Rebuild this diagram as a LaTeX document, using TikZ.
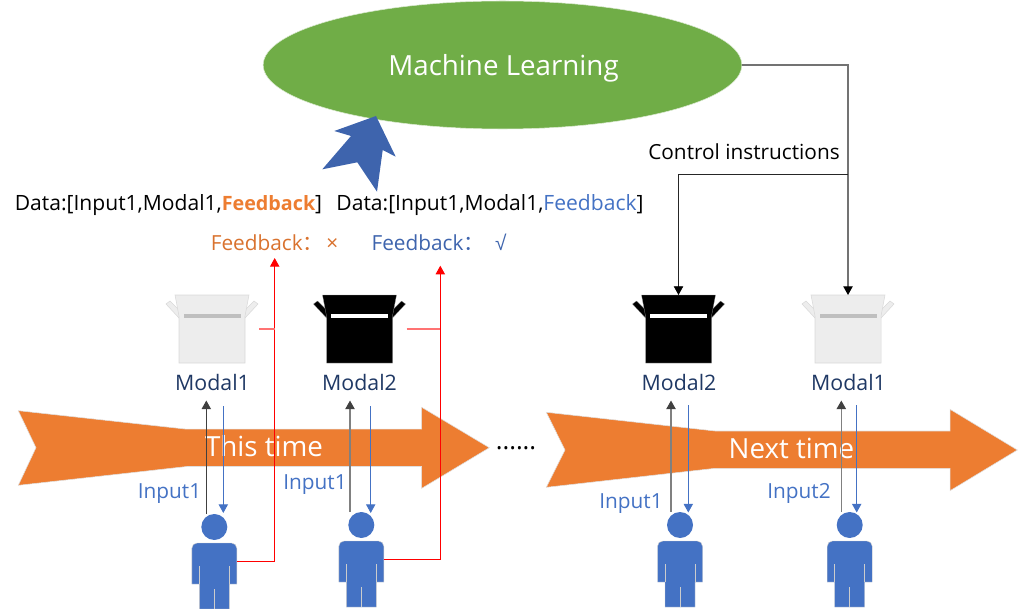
\documentclass[tikz,border=0pt]{standalone}
\usepackage{fontspec}
\setmainfont{Open Sans}
\newfontfamily\cjk{Noto Sans CJK SC}
\newfontfamily\lib{Liberation Sans}
\usetikzlibrary{arrows.meta,shapes.geometric}
\definecolor{mlgreen}{HTML}{70AD47}
\definecolor{timeorange}{HTML}{ED7D31}
\definecolor{userblue}{HTML}{4472C4}
\definecolor{bigblue}{HTML}{3E64AD}
\definecolor{modalnavy}{HTML}{1F3864}
\definecolor{fbackorange}{HTML}{D9722E}
\definecolor{upgray}{HTML}{404040}
\tikzset{
    person/.pic={
        \fill[userblue] (0,0) circle (13);
        \fill[userblue, draw=black!20, line width=0.3pt] (-22.5,57) [rounded corners=4pt] -- (-22.5,16) -- (22.5,16) [sharp corners] -- (22.5,57) -- (15,57) -- (15,82) -- (-15,82) -- (-15,57) -- cycle;
        \draw[black!20, line width=0.5pt] (-15,39) -- (-15,57) (15,39) -- (15,57) (0,62) -- (0,82);
        \coordinate (-side) at (22.5,34);
    },
    modalbox/.pic={
        \path[pic actions] (-46,9) -- (-42,6) -- (-31,17) -- (-33,23) -- cycle;
        \path[pic actions] (46,9) -- (42,6) -- (31,17) -- (33,23) -- cycle;
        \path[pic actions] (-37,0) -- (37,0) -- (33,21) -- (33,68) -- (-33,68) -- (-33,21) -- cycle;
        \coordinate (-top) at (0,0);
    }
}
\begin{document}
\begin{tikzpicture}[x=0.75pt, y=-0.75pt,
        mlnode/.style={ellipse, fill=mlgreen, draw=white!75!mlgreen, line width=0.4pt, minimum width=359pt, minimum height=96pt, inner sep=0pt},
        bigarrow/.style={fill=timeorange, draw=white!75!gray, line width=0.4pt},
        lightbox/.style={fill=black!7, draw=black!15, line width=0.4pt},
        darkbox/.style={fill=black, draw=black!40, line width=0.2pt},
        txt/.style={anchor=base, inner sep=0pt, font=\fontsize{15.6}{18}\selectfont},
        datatxt/.style={txt, font=\fontsize{15.8}{18}\selectfont},
        bigtxt/.style={anchor=base, inner sep=0pt, text=white, font=\fontsize{20.8}{24}\selectfont},
        modaltxt/.style={txt, text=modalnavy, font=\fontsize{16}{18}\selectfont},
        inputtxt/.style={txt, text=userblue},
        uparrow/.style={-{Triangle[width=7pt,length=6.5pt,color=upgray]}, draw=upgray, line width=0.75pt},
        upfaint/.style={-{Triangle[width=7pt,length=6.5pt,color=upgray]}, draw=black!50, line width=1.1pt},
        downarrow/.style={-{Triangle[width=7pt,length=6.5pt]}, draw=userblue, line width=0.7pt},
        redarrow/.style={-{Triangle[width=7pt,length=6.5pt]}, draw=red, line width=0.75pt},
        redstub/.style={draw=red!55, line width=1pt},
        ctrlarrow/.style={-{Triangle[width=7pt,length=6.5pt,color=black]}, draw=black!85, line width=0.6pt}
    ]
    \useasboundingbox (0,0) rectangle (1019,609);

    % Time arrows
    \fill[bigarrow] (18.3,410.7) -- (186.7,429.2) -- (421.7,429.2) -- (421.7,407.3) -- (489.3,447.7) -- (421.7,488.3) -- (421.7,466.5) -- (186.7,466.5) -- (18.3,485.3) -- (36,447.7) -- cycle;
    \fill[bigarrow] (546.3,412.3) -- (715,431) -- (950,431) -- (950,409.3) -- (1017.3,450) -- (950,490.7) -- (950,468.3) -- (715,468.3) -- (546.3,487.3) -- (565,450) -- cycle;
    \node[bigtxt] (thistime) at (264,456.7) {This time};
    \node[bigtxt] (nexttime) at (791.5,458.3) {Next time};
    \node[txt, font=\fontsize{19}{22}\selectfont] (dots) at (516,449) {......};

    % Machine learning and data
    \node[mlnode] (ml) at (502.5,65) {};
    \node[bigtxt] (mltxt) at (503.5,75.5) {Machine Learning};
    \fill[bigblue] (376,116) -- (395.7,156.7) -- (382.7,150) -- (377,191.7) -- (357.3,162.3) -- (322.3,169.3) -- (351,136) -- (334.3,131) -- cycle;
    \node[datatxt] (data1) at (168.5,210.5) {Data:[Input1,Modal1,\textcolor{timeorange}{\fontsize{14.8}{18}\selectfont\bfseries Feedback}]};
    \node[datatxt] (data2) at (490,210.5) {Data:[Input1,Modal1,\textcolor{userblue}{Feedback}]};
    \node[txt, text=fbackorange] (fback1) at (274.5,250.5) {Feedback{\cjk：}\hspace{2pt}×};
    \node[txt, text=bigblue] (fback2) at (439,250.5) {Feedback{\cjk：}\hspace{8pt}{\lib √}};
    \node[txt] (ctrl) at (744,159.5) {Control instructions};

    % Boxes
    \pic[lightbox] (box1) at (212,295) {modalbox};
    \fill[black!25] (184,314) rectangle (241,318);
    \pic[darkbox] (box2) at (359.5,295) {modalbox};
    \fill[white] (331,314) rectangle (388,318);
    \pic[darkbox] (box3) at (678.5,295) {modalbox};
    \fill[white] (650,314) rectangle (707,318);
    \pic[lightbox] (box4) at (848,295) {modalbox};
    \fill[black!25] (820,314) rectangle (877,318);

    \node[modaltxt] (modal1) at (212.5,390.5) {Modal1};
    \node[modaltxt] (modal2) at (359.5,390.5) {Modal2};
    \node[modaltxt] (modal3) at (679,390.5) {Modal2};
    \node[modaltxt] (modal4) at (848.5,390.5) {Modal1};

    % Users
    \pic (per1) at (214.3,527) {person};
    \pic (per2) at (361.3,525) {person};
    \pic (per3) at (680,525) {person};
    \pic (per4) at (849.7,525) {person};

    \node[inputtxt] (input1) at (169.5,498) {Input1};
    \node[inputtxt] (input2) at (315,489) {Input1};
    \node[inputtxt] (input3) at (631,508) {Input1};
    \node[inputtxt] (input4) at (799,498) {Input2};

    % Arrows between users and boxes
    \draw[uparrow] (206.3,514) -- (206.3,400.5);
    \draw[downarrow] (223.3,406) -- (223.3,513);
    \draw[upfaint] (350,512) -- (350,400.5);
    \draw[downarrow] (370.7,406) -- (370.7,513);
    \draw[upfaint] (671,512) -- (671,400.5);
    \draw[downarrow] (688.3,405) -- (688.3,512.5);
    \draw[upfaint] (841.3,512) -- (841.3,400.5);
    \draw[downarrow] (856.7,405) -- (856.7,512.5);

    % Feedback
    \coordinate (fb1) at (274.7,258);
    \coordinate (fb2) at (440.3,265.7);
    \draw[redarrow] (per1-side) -| (fb1);
    \draw[redarrow] (per2-side) -| (fb2);
    \draw[redstub] (259.3,329) -- (274.7,329);
    \draw[redstub] (406.7,329) -- (440.3,329);

    % Control
    \coordinate (ctrlsplit) at (848,174.3);
    \draw[ctrlarrow, draw=black!55, line width=0.9pt] (ml.east) -| (box4-top);
    \draw[ctrlarrow] (ctrlsplit) -| (box3-top);
\end{tikzpicture}
\end{document}
